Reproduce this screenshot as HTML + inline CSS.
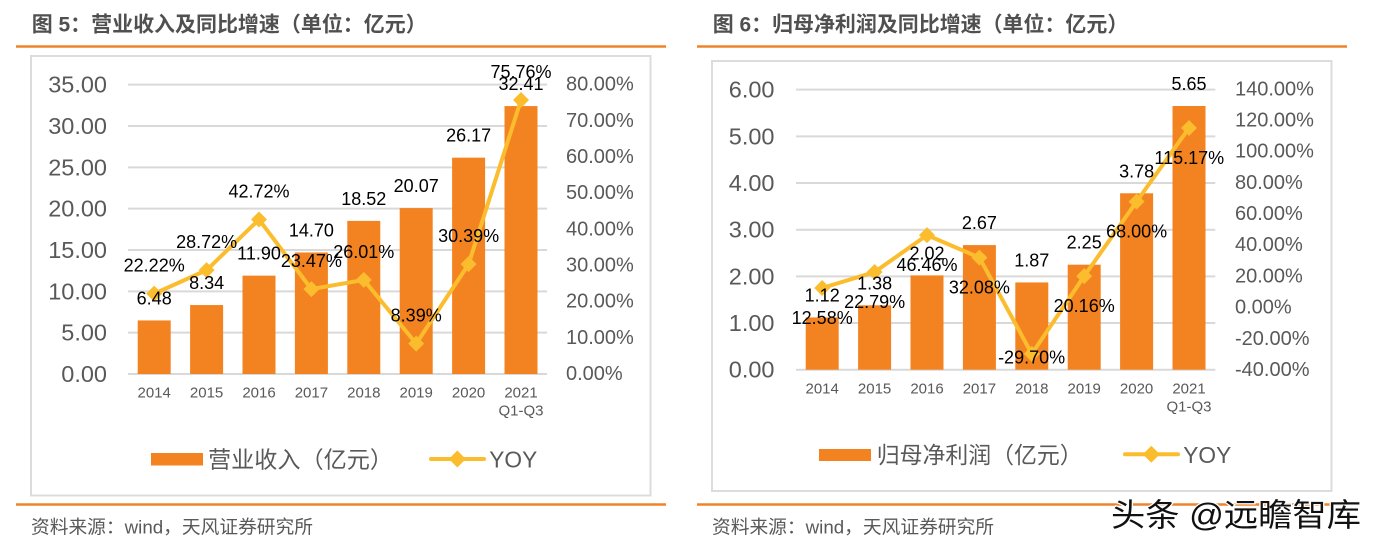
<!DOCTYPE html>
<html><head><meta charset="utf-8">
<style>
html,body{margin:0;padding:0;background:#fff;}
svg{display:block;}
text{font-family:"Liberation Sans","Noto Sans CJK SC",sans-serif;}
.ax{font-size:23.5px;fill:#595959;}
.ax2{font-size:20px;fill:#595959;}
.xl{font-size:15px;fill:#595959;}
.dl{font-size:18px;fill:#000;}
.lg{font-size:23px;fill:#595959;}
.tt{font-size:21px;font-weight:bold;fill:#505050;}
.ft{font-size:18.5px;fill:#595959;}
</style></head>
<body>
<svg width="1378" height="549" viewBox="0 0 1378 549" xmlns="http://www.w3.org/2000/svg">
<rect width="1378" height="549" fill="#fff"/>

<!-- ================= LEFT CHART ================= -->
<text class="tt" x="31.7" y="25" dominant-baseline="central" textLength="395" lengthAdjust="spacingAndGlyphs">图 5：营业收入及同比增速（单位：亿元）</text>
<line x1="16" y1="46.5" x2="666" y2="46.5" stroke="#F0832A" stroke-width="2.5"/>
<rect x="31" y="56" width="619.5" height="439.5" fill="none" stroke="#dcdcdc" stroke-width="2"/>

<g stroke="#d9d9d9" stroke-width="2">
<line x1="128" y1="374" x2="547" y2="374"/>
<line x1="128" y1="332.67" x2="547" y2="332.67"/>
<line x1="128" y1="291.33" x2="547" y2="291.33"/>
<line x1="128" y1="250" x2="547" y2="250"/>
<line x1="128" y1="208.67" x2="547" y2="208.67"/>
<line x1="128" y1="167.33" x2="547" y2="167.33"/>
<line x1="128" y1="126" x2="547" y2="126"/>
<line x1="128" y1="84.67" x2="547" y2="84.67"/>
</g>
<g class="ax" text-anchor="end" dominant-baseline="central">
<text x="107" y="374">0.00</text>
<text x="107" y="332.67">5.00</text>
<text x="107" y="291.33">10.00</text>
<text x="107" y="250">15.00</text>
<text x="107" y="208.67">20.00</text>
<text x="107" y="167.33">25.00</text>
<text x="107" y="126">30.00</text>
<text x="107" y="84.67">35.00</text>
</g>
<g class="ax2" dominant-baseline="central">
<text x="566" y="374">0.00%</text>
<text x="566" y="337.83">10.00%</text>
<text x="566" y="301.67">20.00%</text>
<text x="566" y="265.5">30.00%</text>
<text x="566" y="229.33">40.00%</text>
<text x="566" y="193.17">50.00%</text>
<text x="566" y="157">60.00%</text>
<text x="566" y="120.83">70.00%</text>
<text x="566" y="84.67">80.00%</text>
</g>
<g fill="#F38321">
<rect x="137.7" y="320.43" width="33" height="53.57"/>
<rect x="190.1" y="305.06" width="33" height="68.94"/>
<rect x="242.5" y="275.63" width="33" height="98.37"/>
<rect x="294.9" y="252.48" width="33" height="121.52"/>
<rect x="347.3" y="220.90" width="33" height="153.10"/>
<rect x="399.7" y="208.09" width="33" height="165.91"/>
<rect x="452.1" y="157.66" width="33" height="216.34"/>
<rect x="504.5" y="106.08" width="33" height="267.92"/>
</g>
<g class="xl" text-anchor="middle" dominant-baseline="central">
<text x="154.2" y="393">2014</text>
<text x="206.6" y="393">2015</text>
<text x="259.0" y="393">2016</text>
<text x="311.4" y="393">2017</text>
<text x="363.8" y="393">2018</text>
<text x="416.2" y="393">2019</text>
<text x="468.6" y="393">2020</text>
<text x="521.0" y="393">2021</text>
<text x="521.0" y="411">Q1-Q3</text>
</g>
<polyline fill="none" stroke="#FBBD2E" stroke-width="4" stroke-linejoin="round" points="154.2,293.64 206.6,270.13 259.0,219.50 311.4,289.12 363.8,279.93 416.2,343.66 468.6,264.09 521.0,100.00"/>
<g fill="#FBBD2E">
<polygon points="154.2,285.64 162.2,293.64 154.2,301.64 146.2,293.64"/>
<polygon points="206.6,262.13 214.6,270.13 206.6,278.13 198.6,270.13"/>
<polygon points="259.0,211.50 267.0,219.50 259.0,227.50 251.0,219.50"/>
<polygon points="311.4,281.12 319.4,289.12 311.4,297.12 303.4,289.12"/>
<polygon points="363.8,271.93 371.8,279.93 363.8,287.93 355.8,279.93"/>
<polygon points="416.2,335.66 424.2,343.66 416.2,351.66 408.2,343.66"/>
<polygon points="468.6,256.09 476.6,264.09 468.6,272.09 460.6,264.09"/>
<polygon points="521.0,92.00 529.0,100.00 521.0,108.00 513.0,100.00"/>
</g>
<g class="dl" text-anchor="middle" dominant-baseline="central">
<text x="154.2" y="298.4">6.48</text>
<text x="206.6" y="283.1">8.34</text>
<text x="259.0" y="253.6">11.90</text>
<text x="311.4" y="230.5">14.70</text>
<text x="363.8" y="198.9">18.52</text>
<text x="416.2" y="186.1">20.07</text>
<text x="468.6" y="135.7">26.17</text>
<text x="521.0" y="84.1">32.41</text>
<text x="154.2" y="265.6">22.22%</text>
<text x="206.6" y="242.1">28.72%</text>
<text x="259.0" y="191.5">42.72%</text>
<text x="311.4" y="261.1">23.47%</text>
<text x="363.8" y="251.9">26.01%</text>
<text x="416.2" y="315.7">8.39%</text>
<text x="468.6" y="236.1">30.39%</text>
<text x="521.0" y="72.0">75.76%</text>
</g>
<rect x="151" y="453" width="52" height="12.5" fill="#F38321"/>
<text class="lg" x="208" y="459.5" dominant-baseline="central" textLength="185" lengthAdjust="spacingAndGlyphs">营业收入（亿元）</text>
<line x1="431" y1="459" x2="484" y2="459" stroke="#FBBD2E" stroke-width="4" stroke-linecap="round"/>
<polygon points="457.3,450.5 465.8,459 457.3,467.5 448.8,459" fill="#FBBD2E"/>
<text class="lg" x="489.3" y="459.5" dominant-baseline="central" style="font-size:22.7px">YOY</text>

<line x1="16" y1="504.5" x2="666" y2="504.5" stroke="#F0832A" stroke-width="2.5"/>
<text class="ft" x="31" y="527" dominant-baseline="central" textLength="282" lengthAdjust="spacingAndGlyphs">资料来源：wind，天风证券研究所</text>

<!-- ================= RIGHT CHART ================= -->
<text class="tt" x="712.7" y="25" dominant-baseline="central" textLength="415.6" lengthAdjust="spacingAndGlyphs">图 6：归母净利润及同比增速（单位：亿元）</text>
<line x1="697" y1="46.5" x2="1347" y2="46.5" stroke="#F0832A" stroke-width="2.5"/>
<rect x="712" y="61" width="619.5" height="430" fill="none" stroke="#dcdcdc" stroke-width="2"/>

<g stroke="#d9d9d9" stroke-width="2">
<line x1="796" y1="369.7" x2="1215.3" y2="369.7"/>
<line x1="796" y1="323.03" x2="1215.3" y2="323.03"/>
<line x1="796" y1="276.36" x2="1215.3" y2="276.36"/>
<line x1="796" y1="229.69" x2="1215.3" y2="229.69"/>
<line x1="796" y1="183.02" x2="1215.3" y2="183.02"/>
<line x1="796" y1="136.35" x2="1215.3" y2="136.35"/>
<line x1="796" y1="89.68" x2="1215.3" y2="89.68"/>
</g>
<g class="ax" text-anchor="end" dominant-baseline="central">
<text x="774.5" y="369.7">0.00</text>
<text x="774.5" y="323.03">1.00</text>
<text x="774.5" y="276.36">2.00</text>
<text x="774.5" y="229.69">3.00</text>
<text x="774.5" y="183.02">4.00</text>
<text x="774.5" y="136.35">5.00</text>
<text x="774.5" y="89.68">6.00</text>
</g>
<g class="ax2" dominant-baseline="central">
<text x="1235" y="89.3">140.00%</text>
<text x="1235" y="120.5">120.00%</text>
<text x="1235" y="151.67">100.00%</text>
<text x="1235" y="182.86">80.00%</text>
<text x="1235" y="214.04">60.00%</text>
<text x="1235" y="245.23">40.00%</text>
<text x="1235" y="276.41">20.00%</text>
<text x="1235" y="307.6">0.00%</text>
<text x="1235" y="338.79">-20.00%</text>
<text x="1235" y="369.97">-40.00%</text>
</g>
<g fill="#F38321">
<rect x="805.7" y="317.43" width="33" height="52.27"/>
<rect x="858.1" y="305.30" width="33" height="64.40"/>
<rect x="910.5" y="275.43" width="33" height="94.27"/>
<rect x="962.9" y="245.09" width="33" height="124.61"/>
<rect x="1015.3" y="282.43" width="33" height="87.27"/>
<rect x="1067.7" y="264.69" width="33" height="105.01"/>
<rect x="1120.1" y="193.29" width="33" height="176.41"/>
<rect x="1172.5" y="106.01" width="33" height="263.69"/>
</g>
<g class="xl" text-anchor="middle" dominant-baseline="central">
<text x="822.2" y="389">2014</text>
<text x="874.6" y="389">2015</text>
<text x="927.0" y="389">2016</text>
<text x="979.4" y="389">2017</text>
<text x="1031.8" y="389">2018</text>
<text x="1084.2" y="389">2019</text>
<text x="1136.6" y="389">2020</text>
<text x="1189.0" y="389">2021</text>
<text x="1189.0" y="407">Q1-Q3</text>
</g>
<polyline fill="none" stroke="#FBBD2E" stroke-width="4" stroke-linejoin="round" points="822.2,287.98 874.6,272.06 927.0,235.15 979.4,257.58 1031.8,353.91 1084.2,276.16 1136.6,201.57 1189.0,128.02"/>
<g fill="#FBBD2E">
<polygon points="822.2,279.98 830.2,287.98 822.2,295.98 814.2,287.98"/>
<polygon points="874.6,264.06 882.6,272.06 874.6,280.06 866.6,272.06"/>
<polygon points="927.0,227.15 935.0,235.15 927.0,243.15 919.0,235.15"/>
<polygon points="979.4,249.58 987.4,257.58 979.4,265.58 971.4,257.58"/>
<polygon points="1031.8,345.91 1039.8,353.91 1031.8,361.91 1023.8,353.91"/>
<polygon points="1084.2,268.16 1092.2,276.16 1084.2,284.16 1076.2,276.16"/>
<polygon points="1136.6,193.57 1144.6,201.57 1136.6,209.57 1128.6,201.57"/>
<polygon points="1189.0,120.02 1197.0,128.02 1189.0,136.02 1181.0,128.02"/>
</g>
<g class="dl" text-anchor="middle" dominant-baseline="central">
<text x="822.2" y="295.4">1.12</text>
<text x="874.6" y="283.3">1.38</text>
<text x="927.0" y="253.4">2.02</text>
<text x="979.4" y="223.1">2.67</text>
<text x="1031.8" y="260.4">1.87</text>
<text x="1084.2" y="242.7">2.25</text>
<text x="1136.6" y="171.3">3.78</text>
<text x="1189.0" y="84.0">5.65</text>
<text x="822.2" y="318.0">12.58%</text>
<text x="874.6" y="302.1">22.79%</text>
<text x="927.0" y="265.2">46.46%</text>
<text x="979.4" y="287.6">32.08%</text>
<text x="1031.6" y="357.3">-29.70%</text>
<text x="1084.2" y="306.2">20.16%</text>
<text x="1136.6" y="231.6">68.00%</text>
<text x="1189.3" y="158.0">115.17%</text>
</g>
<rect x="819" y="449" width="52" height="12" fill="#F38321"/>
<text class="lg" x="876.7" y="455" dominant-baseline="central" textLength="206" lengthAdjust="spacingAndGlyphs">归母净利润（亿元）</text>
<line x1="1125" y1="454.3" x2="1178" y2="454.3" stroke="#FBBD2E" stroke-width="4" stroke-linecap="round"/>
<polygon points="1151.3,445.8 1159.8,454.3 1151.3,462.8 1142.8,454.3" fill="#FBBD2E"/>
<text class="lg" x="1183.3" y="455" dominant-baseline="central" style="font-size:22.7px">YOY</text>

<line x1="697" y1="504.5" x2="1347" y2="504.5" stroke="#F0832A" stroke-width="2.5"/>
<text class="ft" x="712" y="527" dominant-baseline="central" textLength="282" lengthAdjust="spacingAndGlyphs">资料来源：wind，天风证券研究所</text>

<!-- watermark -->
<text x="1111" y="515" dominant-baseline="central" textLength="250" lengthAdjust="spacingAndGlyphs" style="font-size:32px;fill:#111;stroke:#fff;stroke-width:2.5px;paint-order:stroke;">头条 @远瞻智库</text>
</svg>
</body></html>
